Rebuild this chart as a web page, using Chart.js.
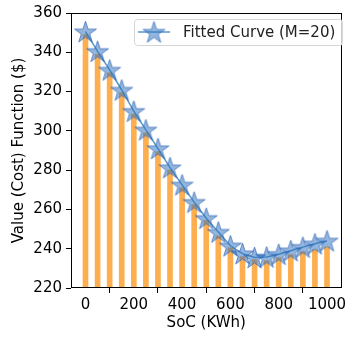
<!DOCTYPE html>
<html>
<head>
<meta charset="utf-8">
<script src="https://cdn.jsdelivr.net/npm/chart.js@4.4.1/dist/chart.umd.min.js"></script>
<style>
  html, body { margin: 0; padding: 0; background: #fff; }
  #wrap { width: 354px; height: 341px; }
</style>
</head>
<body>
<div id="wrap"><canvas id="chart" width="354" height="341"></canvas></div>
<script>
// ---- data ----
const soc = [0, 50, 100, 150, 200, 250, 300, 350, 400, 450, 500, 550, 600, 650, 700, 750, 800, 850, 900, 950, 1000];
const valueBars = [349, 339, 329.5, 319.5, 308.5, 299, 289.5, 280, 271, 262.5, 254.5, 246.5, 240.5, 236, 234.5, 234, 235.5, 237, 238.5, 239.5, 240.8];
const fittedCurve = [350.5, 340.5, 331, 320.8, 310, 300.5, 291, 281.3, 272.5, 263.7, 255.5, 248.5, 241.5, 237.5, 235.5, 235.8, 237.2, 239, 240.8, 242.5, 244];
const xTicks = [0, 200, 400, 600, 800, 1000];
const yTicks = [220, 240, 260, 280, 300, 320, 340, 360];
const legendLabel = 'Fitted Curve (M=20)';

const FONT = 'DejaVu Sans';
const starFill = 'rgba(40,110,190,0.5)';
const starEdge = 'rgba(60,110,185,0.75)';

// ---- five point star marker ----
function starPath(ctx, cx, cy, R) {
  const r = R * 0.382;
  ctx.beginPath();
  for (let i = 0; i < 10; i++) {
    const rad = i % 2 === 0 ? R : r;
    const a = -Math.PI / 2 + i * Math.PI / 5;
    const px = cx + rad * Math.cos(a), py = cy + rad * Math.sin(a);
    if (i === 0) ctx.moveTo(px, py); else ctx.lineTo(px, py);
  }
  ctx.closePath();
}
function makeStar(R) {
  const c = document.createElement('canvas');
  const s = Math.ceil(R * 2 + 4);
  c.width = s; c.height = s;
  const g = c.getContext('2d');
  starPath(g, s / 2, s / 2 + 1, R);
  g.fillStyle = starFill;
  g.fill();
  g.lineWidth = 1;
  g.strokeStyle = starEdge;
  g.stroke();
  return c;
}
const starImg = makeStar(11.5);

// ---- frame + legend ----
const framePlugin = {
  id: 'frame',
  afterDraw(chart) {
    const { ctx, chartArea: a } = chart;
    ctx.save();
    ctx.strokeStyle = '#000';
    ctx.lineWidth = 1;
    ctx.strokeRect(Math.round(a.left) + 0.5, Math.round(a.top) + 0.5,
      Math.round(a.right - a.left) - 1, Math.round(a.bottom - a.top) - 1);

    // legend box
    const bx = 134, by = 19, bw = 208, bh = 26, rr = 3;
    ctx.beginPath();
    ctx.roundRect(bx + 0.5, by + 0.5, bw, bh, rr);
    ctx.fillStyle = 'rgba(255,255,255,0.8)';
    ctx.fill();
    ctx.strokeStyle = '#d5d5d5';
    ctx.stroke();
    const ly = by + bh / 2;
    ctx.beginPath();
    ctx.moveTo(138, ly); ctx.lineTo(170, ly);
    ctx.strokeStyle = 'rgba(31,119,180,0.75)';
    ctx.lineWidth = 1.5;
    ctx.stroke();
    ctx.drawImage(starImg, 154 - starImg.width / 2, ly - starImg.height / 2);
    ctx.fillStyle = '#222';
    ctx.font = '15px "' + FONT + '"';
    ctx.textBaseline = 'middle';
    ctx.textAlign = 'left';
    ctx.fillText(legendLabel, 183, ly + 1);
    ctx.restore();
  }
};

const tickStyle = { drawOnChartArea: false, drawTicks: true, tickLength: 5, color: '#000', lineWidth: 1 };

new Chart(document.getElementById('chart'), {
  type: 'bar',
  data: {
    datasets: [
      {
        type: 'line',
        label: legendLabel,
        data: soc.map((x, i) => ({ x, y: fittedCurve[i] })),
        borderColor: 'rgba(31,119,180,0.75)',
        borderWidth: 1.5,
        tension: 0,
        pointStyle: starImg,
        pointRadius: 11,
        order: 0
      },
      {
        type: 'bar',
        label: 'Value',
        data: soc.map((x, i) => ({ x, y: valueBars[i] })),
        backgroundColor: '#fdae4f',
        borderWidth: 0,
        barThickness: 5,
        order: 1
      }
    ]
  },
  options: {
    responsive: false,
    animation: false,
    layout: { padding: { left: 0, right: 5, top: 10, bottom: 0 } },
    plugins: { legend: { display: false }, tooltip: { enabled: false } },
    scales: {
      x: {
        type: 'linear',
        min: -60, max: 1060,
        offset: false,
        grid: tickStyle,
        border: { display: false },
        afterBuildTicks: s => { s.ticks = xTicks.map(v => ({ value: v })); },
        afterFit: s => { s.height = 53; },
        ticks: { color: '#000', font: { family: FONT, size: 15 }, padding: 3, maxRotation: 0, callback: v => String(v) },
        title: { display: true, text: 'SoC (KWh)', color: '#000', font: { family: FONT, size: 15 }, padding: { top: 0, bottom: 9 } }
      },
      y: {
        min: 220, max: 360,
        grid: tickStyle,
        border: { display: false },
        afterBuildTicks: s => { s.ticks = yTicks.map(v => ({ value: v })); },
        afterFit: s => { s.width = 71; },
        ticks: { color: '#000', font: { family: FONT, size: 15 }, padding: 4, callback: v => String(v) },
        title: { display: true, text: 'Value (Cost) Function ($)', color: '#000', font: { family: FONT, size: 15 }, padding: { top: 10, bottom: 0 } }
      }
    }
  },
  plugins: [framePlugin]
});
</script>
</body>
</html>
